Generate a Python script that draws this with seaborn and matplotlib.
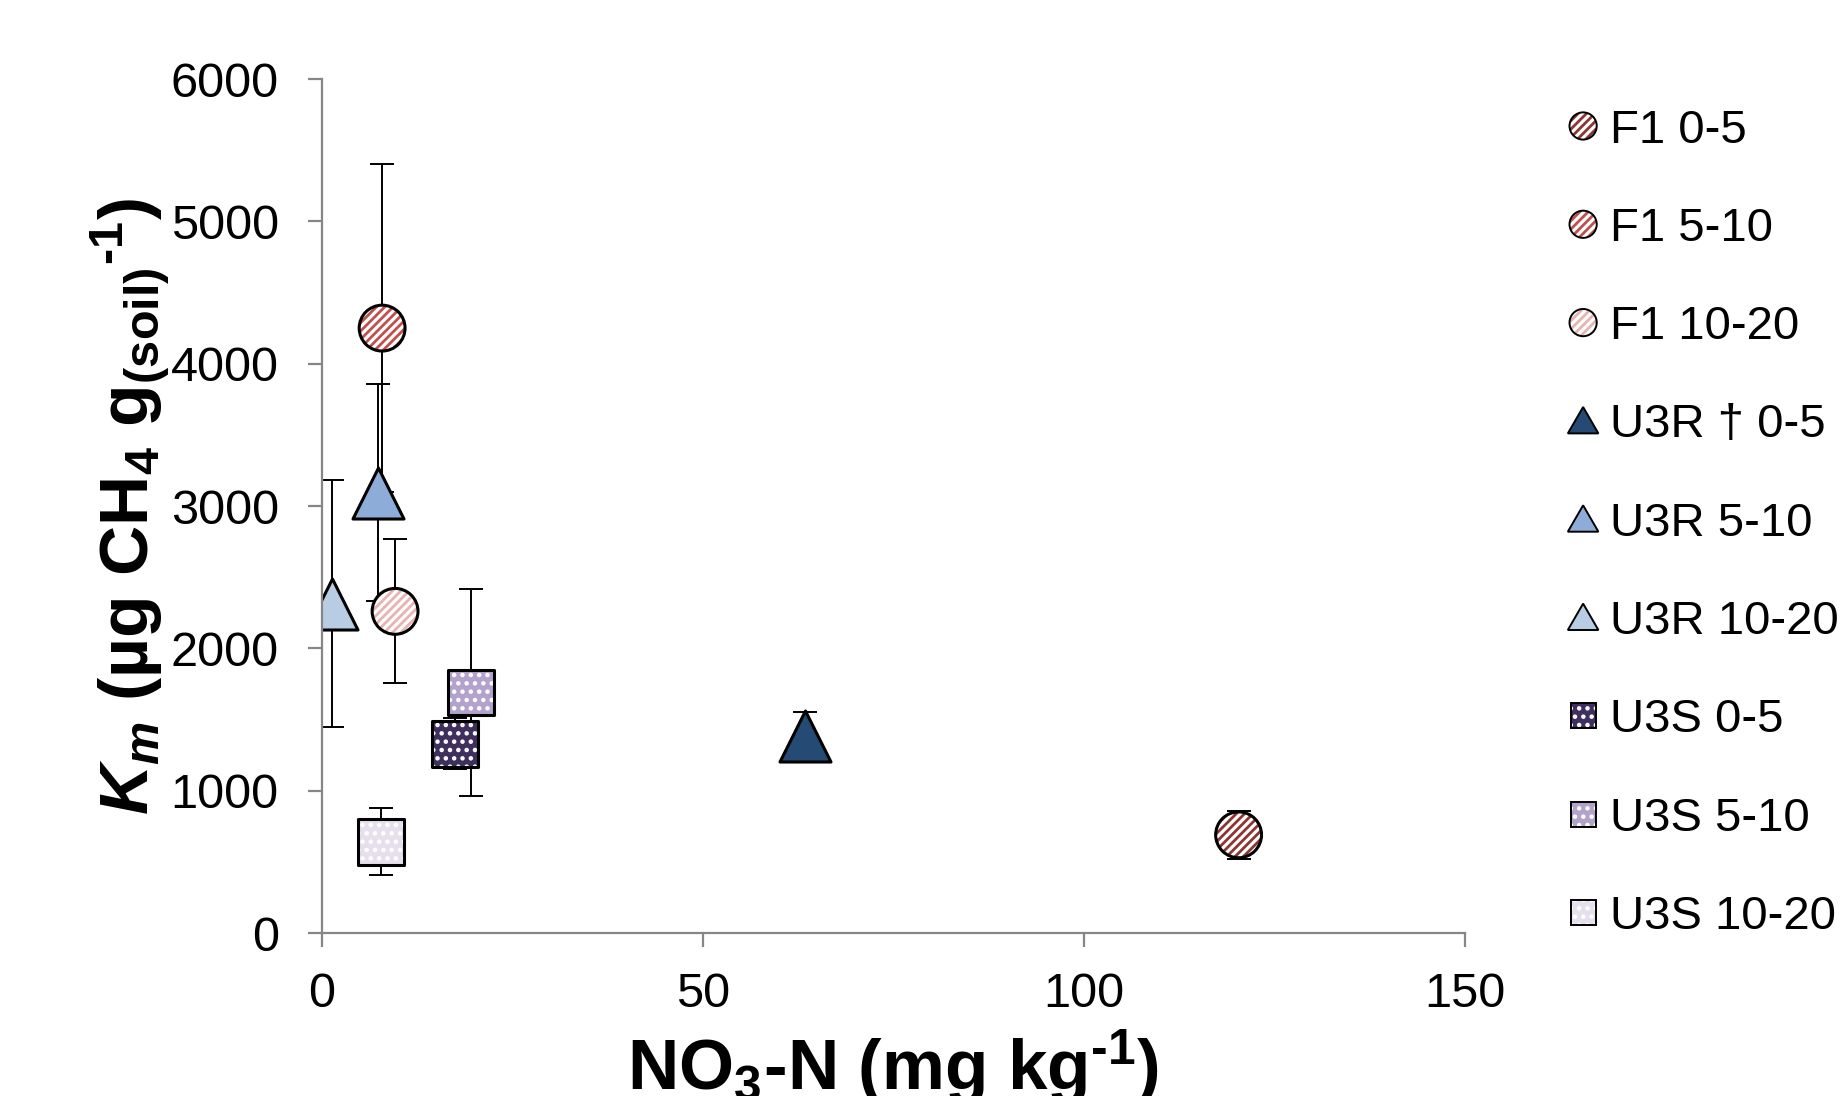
import matplotlib
matplotlib.use('Agg')
import matplotlib.pyplot as plt
import matplotlib.patches as mpatches
from matplotlib.legend_handler import HandlerBase
from matplotlib.lines import Line2D
import seaborn as sns
import pandas as pd

# values
groups = ['F1 0-5', 'F1 5-10', 'F1 10-20',
          'U3R † 0-5', 'U3R 5-10', 'U3R 10-20',
          'U3S 0-5', 'U3S 5-10', 'U3S 10-20']
nitrate = [120.3, 7.9, 9.6, 63.4, 7.4, 1.3, 17.5, 19.6, 7.7]
km = [690, 4250, 2260, 1385, 3095, 2315, 1330, 1690, 640]
km_err = [170, 1150, 505, 170, 760, 870, 180, 730, 235]

shapes = ['o', 'o', 'o', '^', '^', '^', 's', 's', 's']
fills = ['white', 'white', 'white', '#254a73', '#8eacd8', '#b8cce4',
         '#3f2f5f', '#b2a2cc', '#e6e0ee']
hatch_cols = ['#8c3533', '#c0504d', '#e8b4b2', None, None, None,
              'white', 'white', 'white']
hatches = ['////', '////', '////', None, None, None, '..', '..', '..']
sizes = {'o': 1090, '^': 1350, 's': 1090}

df = pd.DataFrame({'group': groups, 'nitrate': nitrate, 'km': km, 'err': km_err})

sns.set_style('white')
plt.rcParams['font.family'] = ['Liberation Sans', 'DejaVu Sans']
plt.rcParams['text.color'] = 'black'
plt.rcParams['axes.labelcolor'] = 'black'
plt.rcParams['mathtext.fontset'] = 'custom'
plt.rcParams['mathtext.rm'] = 'Liberation Sans:bold'
plt.rcParams['mathtext.it'] = 'Liberation Sans:italic:bold'
plt.rcParams['mathtext.bf'] = 'Liberation Sans:bold'
plt.rcParams['mathtext.default'] = 'rm'
plt.rcParams['hatch.linewidth'] = 2.0

fig = plt.figure(figsize=(18.48, 10.96), dpi=100)
ax = fig.add_axes([0.1742, 0.1487, 0.6185, 0.7792])

ax.errorbar(df['nitrate'], df['km'], yerr=df['err'], fmt='none', ecolor='black',
            elinewidth=1.4, capsize=8.3, capthick=1.4, zorder=1)

for i, g in enumerate(groups):
    sub = df[df['group'] == g]
    m = shapes[i]
    if hatches[i]:
        sns.scatterplot(data=sub, x='nitrate', y='km', marker=m, s=sizes[m],
                        color=fills[i], edgecolor=hatch_cols[i], linewidth=0,
                        hatch=hatches[i], ax=ax, zorder=2 + i * 0.1, legend=False)
        ax.scatter(sub['nitrate'], sub['km'], marker=m, s=sizes[m], facecolors='none',
                   edgecolors='black', linewidths=2.2, zorder=2.05 + i * 0.1)
    else:
        sns.scatterplot(data=sub, x='nitrate', y='km', marker=m, s=sizes[m],
                        color=fills[i], edgecolor='black', linewidth=2.2,
                        ax=ax, zorder=2 + i * 0.1, legend=False)

ax.set_xlim(0, 150)
ax.set_ylim(0, 6000)
ax.set_xticks([0, 50, 100, 150])
ax.set_yticks(range(0, 7000, 1000))
for s in ['top', 'right']:
    ax.spines[s].set_visible(False)
for s in ['left', 'bottom']:
    ax.spines[s].set_color('#868686')
    ax.spines[s].set_linewidth(1.6)
ax.tick_params(axis='both', direction='out', length=10, width=1.6, color='#868686',
               labelsize=35, labelcolor='black')
ax.tick_params(axis='y', pad=21, left=True)
ax.tick_params(axis='x', pad=18, bottom=True)

ax.set_xlabel(r'NO$_3$-N (mg kg$^{\text{-1}}$)', fontsize=51, fontweight='bold')
ax.set_ylabel(r'$\mathit{K}_\mathit{m}$ (µg CH$_4$ g$_{(soil)}$$^{\text{-1}}$)',
              fontsize=50, fontweight='bold')
ax.xaxis.set_label_coords(0.5, -0.110)
ax.yaxis.set_label_coords(-0.131, 0.5)


class ShapeHandler(HandlerBase):
    def __init__(self, shape, fill, hcol, hatch):
        super().__init__()
        self.shape, self.fill, self.hcol, self.hatch = shape, fill, hcol, hatch

    def create_artists(self, legend, orig_handle, xdescent, ydescent, width, height,
                       fontsize, trans):
        cx = width / 2 - xdescent
        cy = height / 2 - ydescent
        if self.hatch:
            layers = [dict(facecolor=self.fill, edgecolor=self.hcol, hatch=self.hatch, linewidth=0),
                      dict(facecolor='none', edgecolor='black', linewidth=1.4)]
        else:
            layers = [dict(facecolor=self.fill, edgecolor='black', linewidth=1.4)]
        arts = []
        for kw in layers:
            if self.shape == 'o':
                p = mpatches.Circle((cx, cy), 9.8, **kw)
            elif self.shape == '^':
                p = mpatches.Polygon([[cx - 11, cy - 9], [cx + 11, cy - 9], [cx, cy + 10]],
                                     closed=True, **kw)
            else:
                p = mpatches.Rectangle((cx - 9, cy - 9), 18, 18, **kw)
            p.set_transform(trans)
            arts.append(p)
        return arts


handles = []
hmap = {}
for i, g in enumerate(groups):
    h = Line2D([], [], label=g)
    handles.append(h)
    hmap[h] = ShapeHandler(shapes[i], fills[i], hatch_cols[i], hatches[i])

fig.legend(handles=handles, handler_map=hmap, loc='upper left',
           bbox_to_anchor=(0.849, 0.901), frameon=False, fontsize=34,
           handlelength=0.6, handletextpad=0.26, labelspacing=1.15, borderpad=0,
           borderaxespad=0)

fig.savefig('out.png', dpi=100)
